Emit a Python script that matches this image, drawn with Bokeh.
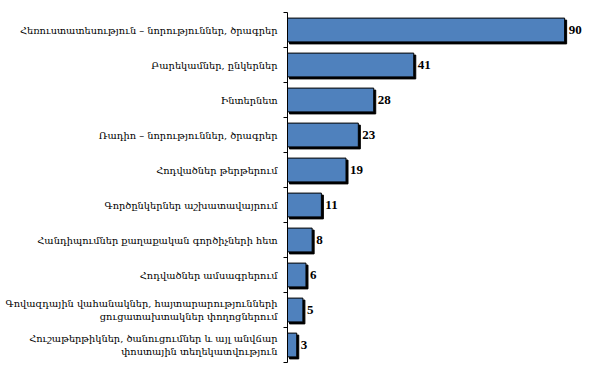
from bokeh.plotting import figure
from bokeh.models import Range1d, FixedTicker, ColumnDataSource
from bokeh.core.properties import value
from bokeh.embed import file_html
from bokeh.resources import INLINE

categories = [
    "Հեռուստատեսություն – նորություններ, ծրագրեր",
    "Բարեկամներ, ընկերներ",
    "Ինտերնետ",
    "Ռադիո – նորություններ, ծրագրեր",
    "Հոդվածներ թերթերում",
    "Գործընկերներ աշխատավայրում",
    "Հանդիպումներ քաղաքական գործիչների հետ",
    "Հոդվածներ ամսագրերում",
    "Գովազդային վահանակներ, հայտարարությունների\nցուցատախտակներ փողոցներում",
    "Հուշաթերթիկներ, ծանուցումներ և այլ անվճար\nփոստային տեղեկատվություն",
]
values = [90, 41, 28, 23, 19, 11, 8, 6, 5, 3]

n = len(categories)
centers = [i + 0.5 for i in range(n)]

W, H = 600, 368
left_border, right_border, top_border, bottom_border = 287, 10, 12, 6
frame_w = W - left_border - right_border
x_end = 98.4
px_x = x_end / frame_w
px_y = n / (H - top_border - bottom_border)

p = figure(width=W, height=H, output_backend="svg", toolbar_location=None,
           x_range=Range1d(0, x_end), y_range=Range1d(n, 0),
           min_border_left=left_border, min_border_right=right_border,
           min_border_top=top_border, min_border_bottom=bottom_border)
p.outline_line_color = None
p.grid.visible = False
p.xaxis.visible = False
p.background_fill_color = "white"
p.border_fill_color = "white"

src = ColumnDataSource(dict(
    y=centers, v=values,
    sy=[c + 2 * px_y for c in centers],
    sl=[2 * px_x] * n,
    sr=[v + 2 * px_x for v in values],
    lab=[str(v) for v in values],
))

bh = 0.68
p.hbar(y="sy", left="sl", right="sr", height=bh, source=src,
       fill_color="black", line_color="black")
p.hbar(y="y", left=0, right="v", height=bh, source=src,
       fill_color="#4F81BD", line_color="black", line_width=1)
p.text(x="v", y="y", text="lab", source=src, x_offset=4,
       text_font=value("Liberation Serif"), text_font_style="bold",
       text_font_size="13px", text_baseline="middle", text_align="left",
       text_color="black")

ax = p.yaxis[0]
ax.ticker = FixedTicker(ticks=centers, minor_ticks=list(range(n + 1)))
ax.major_label_overrides = {c: lab for c, lab in zip(centers, categories)}
ax.major_tick_out = 0
ax.major_tick_in = 0
ax.minor_tick_out = 4
ax.minor_tick_in = 0
ax.minor_tick_line_color = "black"
ax.axis_line_color = "black"
ax.major_label_text_font = "DejaVu Serif"
ax.major_label_text_font_size = "9.8px"
ax.major_label_text_color = "black"
ax.major_label_standoff = 6

open("out.html", "w").write(file_html(p, INLINE))
